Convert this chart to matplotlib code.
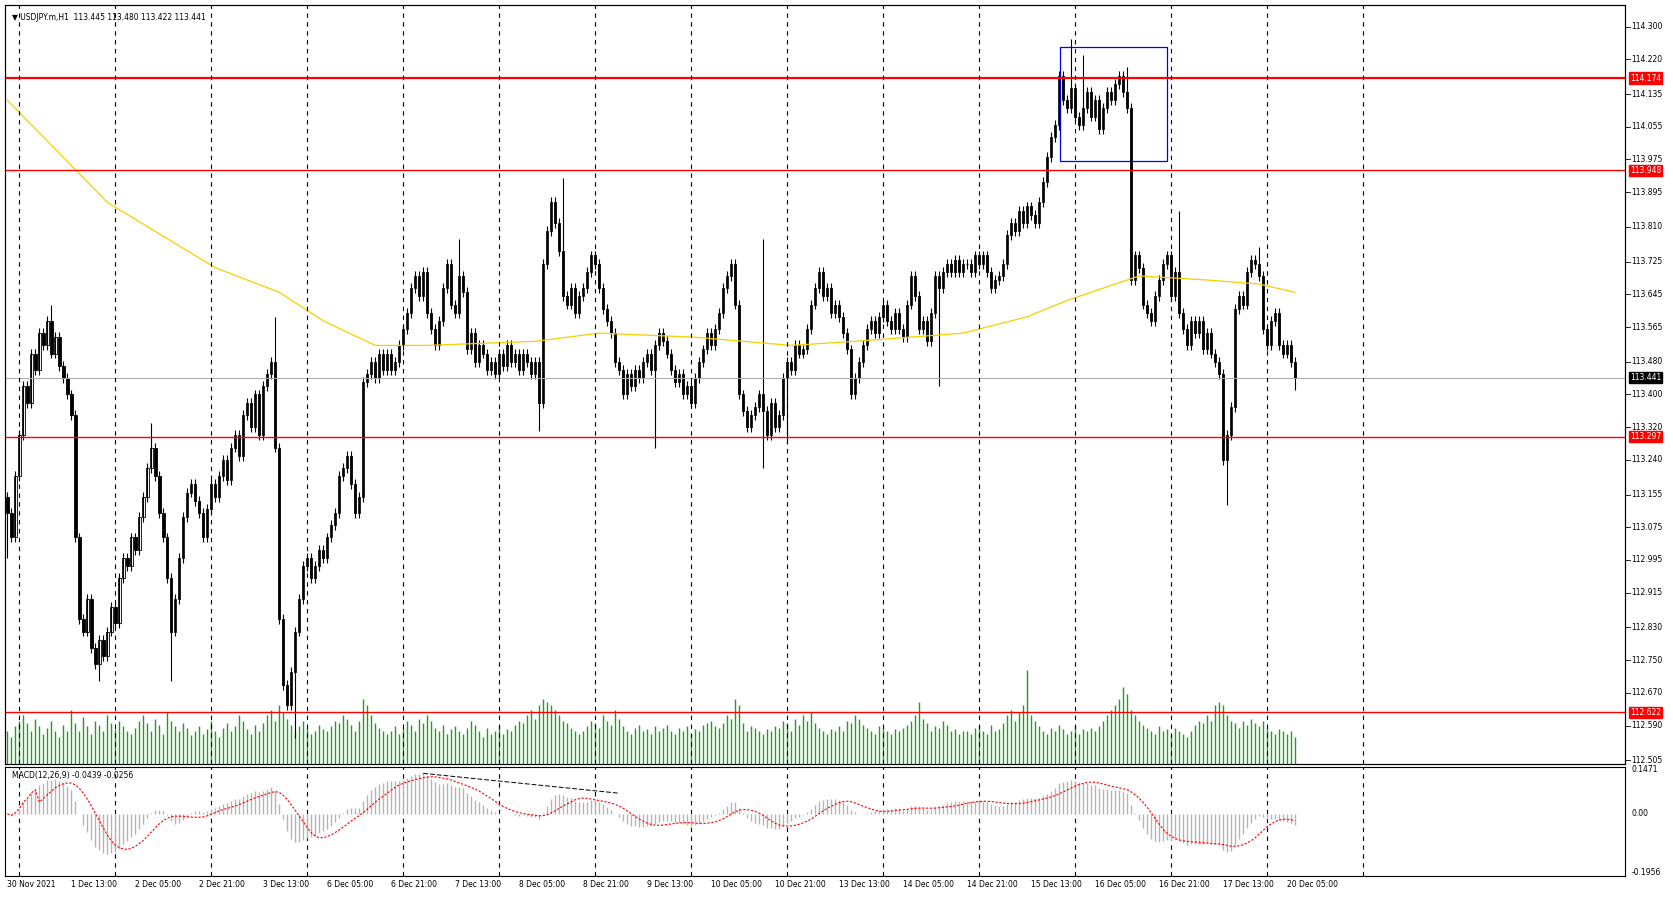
import numpy as np
import matplotlib.pyplot as plt
from matplotlib.patches import Rectangle

# 종가 (1시간봉, 16개씩 = x축 라벨 간격)
closes = [
    113.11,113.05,113.20,113.30,113.42,113.38,113.50,113.46,113.55,113.52,113.58,113.50,113.54,113.47,113.44,113.40,
    113.35,113.05,112.85,112.82,112.90,112.78,112.74,112.80,112.76,112.82,112.88,112.84,112.95,113.00,112.98,113.05,
    113.02,113.10,113.15,113.22,113.27,113.20,113.11,113.05,112.95,112.82,112.90,113.00,113.10,113.16,113.18,113.14,
    113.11,113.05,113.12,113.18,113.15,113.20,113.24,113.19,113.27,113.30,113.25,113.35,113.38,113.32,113.40,113.30,
    113.42,113.45,113.48,113.27,112.85,112.69,112.64,112.72,112.82,112.90,112.98,113.00,112.95,112.98,113.02,113.00,
    113.05,113.08,113.11,113.20,113.22,113.25,113.18,113.11,113.15,113.43,113.45,113.48,113.44,113.50,113.46,113.50,
    113.46,113.48,113.52,113.56,113.60,113.66,113.69,113.64,113.70,113.60,113.56,113.52,113.58,113.66,113.72,113.62,
    113.60,113.69,113.65,113.51,113.55,113.48,113.52,113.50,113.46,113.48,113.45,113.50,113.47,113.52,113.48,113.50,
    113.46,113.50,113.48,113.45,113.48,113.38,113.72,113.80,113.87,113.82,113.75,113.64,113.62,113.66,113.60,113.64,
    113.66,113.70,113.74,113.72,113.66,113.61,113.58,113.55,113.48,113.46,113.40,113.45,113.42,113.46,113.44,113.48,
    113.50,113.46,113.52,113.55,113.53,113.50,113.46,113.43,113.45,113.40,113.42,113.38,113.44,113.48,113.51,113.55,
    113.52,113.56,113.60,113.66,113.69,113.72,113.62,113.40,113.36,113.32,113.35,113.37,113.40,113.36,113.30,113.38,
    113.32,113.35,113.44,113.48,113.46,113.52,113.50,113.51,113.56,113.62,113.66,113.70,113.64,113.66,113.60,113.62,
    113.59,113.55,113.51,113.40,113.44,113.48,113.52,113.56,113.58,113.55,113.59,113.62,113.58,113.56,113.60,113.56,
    113.54,113.62,113.69,113.64,113.56,113.58,113.53,113.60,113.69,113.66,113.70,113.72,113.70,113.73,113.70,113.72,
    113.72,113.70,113.74,113.72,113.74,113.70,113.66,113.68,113.69,113.72,113.79,113.82,113.80,113.85,113.82,113.86,
    113.84,113.82,113.87,113.92,113.98,114.03,114.06,114.18,114.12,114.10,114.15,114.08,114.06,114.10,114.14,114.08,
    114.12,114.05,114.10,114.14,114.12,114.16,114.18,114.14,114.10,113.68,113.74,113.71,113.62,113.60,113.58,113.64,
    113.68,113.72,113.74,113.64,113.70,113.60,113.56,113.52,113.58,113.55,113.58,113.51,113.55,113.50,113.48,113.45,
    113.24,113.30,113.37,113.61,113.64,113.62,113.70,113.73,113.72,113.69,113.56,113.52,113.58,113.60,113.52,113.50,
    113.52,113.48,113.44,
]
first_open = 113.15

# 눈에 띄는 고가/저가 (봉 번호: 가격)
extra_highs = {11: 113.62, 36: 113.33, 67: 113.59, 113: 113.78, 139: 113.93, 189: 113.78,
               266: 114.27, 269: 114.23, 293: 113.85, 313: 113.76, 280: 114.20}
extra_lows = {0: 113.00, 23: 112.70, 41: 112.70, 72: 112.56, 133: 113.31, 162: 113.27,
              189: 113.22, 195: 113.28, 233: 113.42, 305: 113.13, 322: 113.41}

# 거래량 (픽셀 높이 단위)
volumes = [
    30,25,35,40,45,38,30,42,35,28,33,40,30,25,36,30,
    50,38,30,44,35,28,40,36,30,45,38,32,40,35,30,28,
    33,40,45,38,30,42,36,28,48,40,35,30,38,33,27,30,
    35,28,32,40,30,25,33,38,30,35,45,40,32,28,36,30,
    38,45,50,40,55,48,42,36,30,35,40,33,28,30,36,32,
    30,35,40,38,45,42,36,30,40,60,55,45,38,33,30,28,
    30,35,28,33,40,36,30,42,38,45,40,33,30,36,28,32,
    35,30,28,33,40,36,30,25,33,28,30,35,28,32,30,36,
    40,38,45,50,42,55,60,58,55,50,45,40,38,33,30,28,
    30,35,40,38,33,45,40,36,50,42,35,30,28,33,36,30,
    32,28,35,30,33,36,30,28,33,30,35,28,32,30,36,38,
    40,35,33,38,45,42,60,55,38,30,35,33,30,28,32,30,
    35,33,40,38,30,42,36,45,40,48,38,33,30,28,32,30,
    35,30,40,38,45,42,36,33,30,28,35,33,30,28,32,30,
    33,36,40,45,58,42,38,30,35,33,40,36,30,32,28,30,
    30,28,33,35,30,28,36,30,32,38,45,50,40,48,55,88,
    45,40,35,30,28,33,30,36,32,28,30,35,28,32,30,33,
    30,35,40,45,50,55,60,72,65,50,45,40,36,33,30,28,
    35,30,32,28,33,30,28,25,30,36,40,38,45,40,55,58,
    55,45,40,38,33,40,36,42,38,35,40,33,30,28,32,30,
    28,30,25,
]

# 이동평균 (노란선) 읽은 값: 봉 번호, 가격
ma_bars = [0, 25, 52, 68, 79, 92, 105, 132, 148, 172, 196, 212, 239, 255, 265, 283, 300, 313, 322]
ma_vals = [114.12, 113.87, 113.71, 113.65, 113.58, 113.52, 113.52, 113.53, 113.55, 113.54,
           113.52, 113.53, 113.55, 113.59, 113.63, 113.69, 113.68, 113.67, 113.65]

hlines_red = [114.174, 113.948, 113.297, 112.622]
last_price = 113.441

price_ticks = [114.300, 114.220, 114.135, 114.055, 113.975, 113.895, 113.810, 113.725, 113.645,
               113.565, 113.480, 113.400, 113.320, 113.240, 113.155, 113.075, 112.995, 112.915,
               112.830, 112.750, 112.670, 112.590, 112.505]
date_labels = ['30 Nov 2021', '1 Dec 13:00', '2 Dec 05:00', '2 Dec 21:00', '3 Dec 13:00',
               '6 Dec 05:00', '6 Dec 21:00', '7 Dec 13:00', '8 Dec 05:00', '8 Dec 21:00',
               '9 Dec 13:00', '10 Dec 05:00', '10 Dec 21:00', '13 Dec 13:00', '14 Dec 05:00',
               '14 Dec 21:00', '15 Dec 13:00', '16 Dec 05:00', '16 Dec 21:00', '17 Dec 13:00',
               '20 Dec 05:00']

closes = np.array(closes)
n = len(closes)
opens = np.concatenate([[first_open], closes[:-1]])
highs = np.maximum(opens, closes) + 0.012
lows = np.minimum(opens, closes) - 0.012
for k, v in extra_highs.items():
    highs[k] = max(highs[k], v)
for k, v in extra_lows.items():
    lows[k] = min(lows[k], v)
x = np.arange(n)

# MACD (12,26,9), 시그널은 SMA
def ema(a, p):
    out = np.empty_like(a)
    out[0] = a[0]
    al = 2 / (p + 1)
    for i in range(1, len(a)):
        out[i] = al * a[i] + (1 - al) * out[i - 1]
    return out
macd = ema(closes, 12) - ema(closes, 26)
signal = np.convolve(macd, np.ones(9) / 9, mode='full')[:n]
signal[:8] = macd[:8]

W, H = 1673, 897
fig = plt.figure(figsize=(W / 100, H / 100), dpi=100)
L, R = 5 / 1567, 1522 / 1567
ax = fig.add_axes([L, 1 - 715 / 840, R - L, 710 / 840])
axm = fig.add_axes([L, 1 - 820 / 840, R - L, 102 / 840])
xmin, xmax = -0.5, 404.5
ylo, yhi = 112.497, 114.352

# 거래량
axv = ax.twinx()
axv.vlines(x, 0, volumes, color='#1f9e1f', lw=1.0)
axv.set_ylim(0, 710)
axv.set_yticks([])
axv.set_zorder(0)
ax.set_zorder(1)
ax.patch.set_visible(False)

# 캔들
up = closes >= opens
ax.vlines(x, lows, highs, color='black', lw=0.8)
ax.bar(x[up], (closes - opens)[up], bottom=opens[up], width=0.6,
       color='white', edgecolor='black', lw=0.6)
ax.bar(x[~up], (opens - closes)[~up], bottom=closes[~up], width=0.6,
       color='black', edgecolor='black', lw=0.6)
ax.plot(ma_bars, ma_vals, color='#f5d000', lw=0.9)

for i, p in enumerate(hlines_red):
    ax.axhline(p, color='red', lw=1.6 if i == 0 else 1.0)
ax.axhline(last_price, color='#aaaaaa', lw=0.7)
ax.add_patch(Rectangle((263.2, 113.971), 26.7, 0.279, fill=False, ec='blue', lw=0.9))

day_lines = np.arange(3, 340, 24)
for a in (ax, axm):
    for d in day_lines:
        a.axvline(d, color='black', ls=(0, (4, 4)), lw=0.8)
    a.set_xlim(xmin, xmax)
    a.set_xticks([])
    for s in a.spines.values():
        s.set_color('black')
        s.set_linewidth(0.8)

ax.set_ylim(ylo, yhi)
ax.set_yticks([])
for p in price_ticks:
    ax.text(1.004, (p - ylo) / (yhi - ylo), f'{p:.3f}', transform=ax.transAxes,
            fontsize=5.5, va='center', ha='left')
    ax.plot([1, 1.003], [(p - ylo) / (yhi - ylo)] * 2, transform=ax.transAxes,
            color='black', lw=0.6, clip_on=False)
for p, c in [(114.174, 'red'), (113.948, 'red'), (113.297, 'red'), (112.622, 'red'), (last_price, 'black')]:
    ax.text(1.003, (p - ylo) / (yhi - ylo), f'{p:.3f}', transform=ax.transAxes, fontsize=5.5,
            va='center', ha='left', color='white',
            bbox=dict(boxstyle='square,pad=0.15', fc=c, ec=c))
ax.text(0.004, 0.99, '\u25bc USDJPY.m,H1  113.445 113.480 113.422 113.441', transform=ax.transAxes,
        fontsize=5.5, va='top', ha='left')

# MACD 패널
mlo, mhi = -0.2056, 0.1571
axm.vlines(x, 0, macd, color='#b4b4b4', lw=1.0)
axm.plot(x, signal, color='red', ls=(0, (2, 1.5)), lw=0.8)
axm.plot([104, 153], [0.135, 0.0688], color='black', ls=(0, (5, 2)), lw=0.7)
axm.set_ylim(mlo, mhi)
axm.set_yticks([])
for v, t in [(0.1471, '0.1471'), (0.0, '0.00'), (-0.1956, '-0.1956')]:
    axm.text(1.004, (v - mlo) / (mhi - mlo), t, transform=axm.transAxes, fontsize=5.5, va='center')
axm.text(0.004, 0.96, 'MACD(12,26,9) -0.0439 -0.0256', transform=axm.transAxes,
         fontsize=5.5, va='top')

for i, lab in enumerate(date_labels):
    xb = i * 16
    fx = L + (xb - xmin) / (xmax - xmin) * (R - L)
    fig.text(fx, 1 - 828 / 840, lab, fontsize=5.5, ha='left', va='center')

fig.savefig('out.png', dpi=100)
